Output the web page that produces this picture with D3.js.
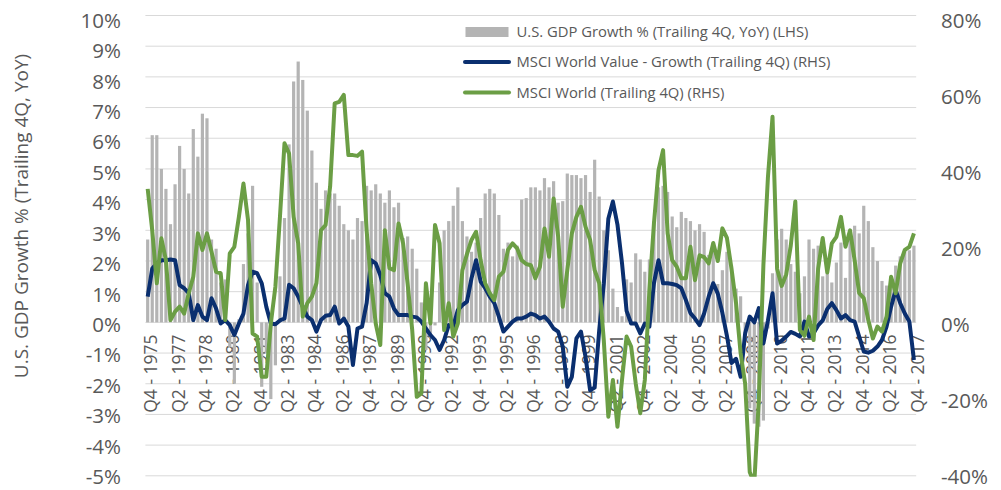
<!DOCTYPE html>
<html>
<head>
<meta charset="utf-8">
<script src="https://d3js.org/d3.v7.min.js"></script>
<style>
    body { margin: 0; background: #fff; }
    text { font-family: "Open Sans", sans-serif; fill: #595959; }
</style>
</head>
<body>
<div id="chart"></div>
<script>

// quarters run from Q4 1975 to Q4 2017
let quarters = [];
for (let yr = 1975; yr <= 2017; yr++) {
    for (let q = 1; q <= 4; q++) {
        if (yr === 1975 && q < 4) continue;
        quarters.push("Q" + q + " - " + yr);
    }
}

// U.S. GDP growth % (trailing 4Q, YoY), left axis
let gdpGrowth = [
    2.7, 6.1, 6.1, 5.0, 4.35, 3.2, 4.5, 5.75, 5.0, 4.2,
    6.3, 5.4, 6.8, 6.65, 2.7, 2.4, 1.3, 1.4, -0.8, -2.0,
    0.1, 1.9, 2.9, 4.45, 1.3, -2.1, -1.0, -2.5, -1.4, 1.5,
    3.4, 5.8, 7.85, 8.5, 7.9, 6.9, 5.6, 4.55, 3.7, 4.3,
    4.2, 4.2, 3.8, 3.2, 3.0, 2.7, 3.4, 3.3, 4.45, 4.3,
    4.5, 4.2, 3.9, 4.3, 3.75, 3.9, 2.75, 2.8, 2.4, 1.75,
    0.65, -0.9, -0.5, -0.1, 1.3, 3.0, 3.3, 3.8, 4.4, 3.3,
    2.8, 2.3, 2.6, 3.4, 4.2, 4.35, 4.2, 3.5, 2.4, 2.6,
    2.15, 2.5, 4.0, 4.05, 4.4, 4.4, 4.3, 4.7, 4.4, 4.6,
    3.9, 3.95, 4.85, 4.8, 4.8, 4.7, 4.8, 4.25, 5.3, 4.1,
    3.0, 2.35, 1.1, 0.5, 0.2, 1.4, 1.3, 2.25, 2.05, 1.65,
    2.05, 3.3, 4.4, 4.45, 4.25, 3.45, 3.1, 3.6, 3.4, 3.3,
    3.0, 3.2, 2.95, 2.2, 2.4, 1.25, 1.7, 2.3, 1.85, 1.1,
    0.85, -0.3, -2.8, -3.3, -3.4, -3.2, -0.2, 1.6, 2.7, 3.05,
    2.7, 1.9, 1.65, 0.95, 1.5, 2.7, 2.4, 2.5, 1.5, 1.6,
    1.3, 1.95, 2.6, 1.45, 2.7, 3.15, 2.9, 3.8, 3.3, 2.45,
    2.0, 1.35, 1.2, 1.5, 1.85, 2.15, 2.35, 2.35, 2.5
];

// MSCI World Value - Growth (trailing 4Q), right axis
let valueMinusGrowth = [
    6.7, 14, 15.4, 16.2, 16.2, 16.4, 16.2, 9.7, 8.9, 7.6,
    0.6, 4.5, 1.5, 0.6, 6.3, 3.6, -0.3, 0.6, -0.7, -3.3,
    -0.3, 2.3, 9.7, 13.2, 12.8, 10.2, 4.1, -0.3, -0.5, 0.5,
    1.0, 9.8, 8.9, 6.7, 4.1, 1.5, 0.6, -2.4, 0.6, 1.7,
    1.9, 4.1, -0.3, 1.0, -1.1, -11.1, -1.6, -1.1, 5.0, 16.2,
    15.4, 12.3, 7.6, 6.7, 3.6, 1.9, 1.9, 1.9, 1.5, 1.3,
    0.2, -1.6, -3.3, -4.6, -7.2, -4.6, -0.7, -1.1, 3.2, 4.5,
    5.4, 11.5, 16.2, 10.6, 8.9, 6.7, 5.0, 1.5, -2.4, -1.1,
    0.2, 1.0, 1.0, 1.5, 2.3, 1.9, 1.0, 1.5, 0.2, -1.6,
    -2.4, -6.3, -16.8, -14.2, -4.2, -2.4, -9.0, -17.7, -17.0, -2.0,
    10.0, 27.0, 31.5, 25.5, 15.4, 3.0, -0.3, -0.3, -2.9, -0.3,
    -1.1, 10.2, 16.2, 10.2, 10.2, 10.0, 9.7, 8.9, 5.8, 2.4,
    1.0, -0.7, 2.3, 6.7, 10.2, 7.5, 2.5, -3.5, -10.6, -9.5,
    -14.2, -2.8, 1.5, 0.0, 3.7, -5.5, 0.5, 7.6, -5.5, -4.8,
    -3.7, -2.5, -3.0, -3.7, 0.2, -3.7, -2.8, -0.8, 0.5, 3.5,
    5.0, 3.2, 1.0, 1.9, 0.6, 0.2, -3.7, -7.6, -7.9, -7.4,
    -6.3, -4.6, -1.1, 4.1, 8.4, 5.0, 2.3, 0.2, -9.8
];

// MSCI World (trailing 4Q), right axis
let msciWorld = [
    34.8, 24, 10.2, 21.9, 16.2, 0.6, 2.8, 4.1, 2.3, 7.6,
    11.9, 23.2, 18.9, 23.2, 18.4, 13.2, 12.8, 0.6, 18, 19.7,
    27.5, 36.2, 26.7, -2.9, -3.7, -14.2, -14.2, -0.3, 9.3, 27.5,
    46.7, 44, 27.5, 20.6, 1.5, 5, 6.7, 10.2, 24, 25.4,
    35.4, 57.1, 57.5, 59.3, 43.6, 43.6, 43.4, 44.5, 24, 10.2,
    -0.3, -5.9, 24, 14.1, 13.6, 25.8, 20.6, 10, -2, -19.4,
    -18.5, 10.2, -0.3, 25.4, 20.6, -2, 5, -3.7, -0.3, 13.6,
    17.8, 21.5, 23.6, 16.2, 10.2, 7.6, 5.8, 11.9, 13.2, 18.9,
    20.6, 19.3, 16.2, 15.2, 14.9, 11.5, 14.5, 24.5, 17.1, 32.3,
    22.3, 4.1, 13.6, 23.2, 27.5, 30.1, 24.9, 21.5, 13.6, 10.2,
    -4.6, -24.6, -15, -27.2, -15, -3.7, -6.3, -15.9, -23.7, -15,
    8.4, 25.8, 39.7, 44.9, 23.2, 16.2, 14.5, 11.5, 11.5, 19.7,
    11, 17.5, 17, 15.4, 20.7, 16, 24.5, 22, 14, 5,
    -8, -16, -39, -42, -20, 15, 38, 53.6, 14, 9.5,
    12.5, 20, 31.5, -2, -3.5, 1.5, -4.6, 14, 22, 13,
    20.6, 22.3, 27.5, 19.7, 24, 16.2, 7.6, 6.3, 0.6, -4.2,
    -1.1, -2.4, 1.5, 11.9, 7.6, 15.4, 18.9, 19.7, 23.2
];

let leftTicks = d3.range(-5, 11, 1);
let rightTicks = [-40, -20, 0, 20, 40, 60, 80];
let legendLabels = [
    "U.S. GDP Growth % (Trailing 4Q, YoY) (LHS)",
    "MSCI World Value - Growth (Trailing 4Q) (RHS)",
    "MSCI World (Trailing 4Q) (RHS)"
];

let width = 1001, height = 490;
let plot = {left: 145.4, right: 916.2, top: 15.5, bottom: 475.8};
let colors = {bar: "#b4b4b4", blue: "#0a2f6f", green: "#6b9e45", grid: "#d9d9d9"};

let svg = d3.select("#chart").append("svg")
    .attr("width", width)
    .attr("height", height);

let x = d3.scaleBand()
    .domain(quarters)
    .range([plot.left, plot.right])
    .paddingInner(0.3)
    .paddingOuter(0.15);

let yL = d3.scaleLinear().domain([-5, 10]).range([plot.bottom, plot.top]);
let yR = d3.scaleLinear().domain([-40, 80]).range([plot.bottom, plot.top]);

// the tick labels sit a little tighter than the gridlines
let yLabelL = d3.scaleLinear().domain([-5, 10]).range([477, 20.7]);
let yLabelR = d3.scaleLinear().domain([-40, 80]).range([477, 20.7]);

let xc = function(i) { return x(quarters[i]) + x.bandwidth() / 2; };

// horizontal gridlines
svg.append("g")
    .selectAll("line")
    .data(leftTicks)
    .enter()
    .append("line")
    .attr("x1", plot.left)
    .attr("x2", plot.right)
    .attr("y1", d => yL(d))
    .attr("y2", d => yL(d))
    .style("stroke", colors.grid)
    .style("stroke-width", 1);

// left axis labels
let leftAxis = svg.append("g")
    .attr("transform", "translate(121,0)")
    .call(d3.axisLeft(yLabelL).tickValues(leftTicks).tickSize(0).tickPadding(0).tickFormat(d => d + "%"));
leftAxis.select(".domain").remove();
leftAxis.selectAll("text")
    .style("font-family", "Open Sans")
    .style("font-size", "20.5px")
    .attr("fill", "#595959");

// right axis labels
let rightAxis = svg.append("g")
    .attr("transform", "translate(941,0)")
    .call(d3.axisRight(yLabelR).tickValues(rightTicks).tickSize(0).tickPadding(0).tickFormat(d => d + "%"));
rightAxis.select(".domain").remove();
rightAxis.selectAll("text")
    .style("font-family", "Open Sans")
    .style("font-size", "20.5px")
    .attr("fill", "#595959");

// x labels, every 6th quarter, rotated
let tickQuarters = quarters.filter((d, i) => i % 6 === 0);
let xAxis = svg.append("g")
    .attr("transform", "translate(3.5," + yL(0) + ")")
    .call(d3.axisBottom(x).tickValues(tickQuarters).tickSize(0));
xAxis.select(".domain").remove();
xAxis.selectAll("text")
    .attr("transform", "rotate(-90)")
    .attr("text-anchor", "end")
    .attr("x", -12)
    .attr("y", 0)
    .attr("dy", "0.35em")
    .style("font-family", "Open Sans")
    .style("font-size", "17.5px")
    .attr("fill", "#595959");

// gdp bars
svg.append("g")
    .selectAll("rect")
    .data(gdpGrowth)
    .enter()
    .append("rect")
    .attr("x", (d, i) => x(quarters[i]))
    .attr("width", x.bandwidth())
    .attr("y", d => yL(Math.max(0, d)))
    .attr("height", d => Math.abs(yL(d) - yL(0)))
    .style("fill", colors.bar);

// clip lines to the plot area
svg.append("clipPath")
    .attr("id", "plotClip")
    .append("rect")
    .attr("x", 0)
    .attr("y", plot.top)
    .attr("width", width)
    .attr("height", plot.bottom - plot.top + 1);

let line = d3.line()
    .x((d, i) => xc(i))
    .y(d => yR(d));

svg.append("path")
    .datum(valueMinusGrowth)
    .attr("d", line)
    .attr("clip-path", "url(#plotClip)")
    .style("fill", "none")
    .style("stroke", colors.blue)
    .style("stroke-width", 4)
    .style("stroke-linejoin", "round");

svg.append("path")
    .datum(msciWorld)
    .attr("d", line)
    .attr("clip-path", "url(#plotClip)")
    .style("fill", "none")
    .style("stroke", colors.green)
    .style("stroke-width", 4)
    .style("stroke-linejoin", "round");

// y axis title
svg.append("text")
    .attr("transform", "translate(21,216) rotate(-90)")
    .attr("text-anchor", "middle")
    .attr("dy", "0.35em")
    .style("font-size", "19px")
    .text("U.S. GDP Growth % (Trailing 4Q, YoY)");

// legend
let legendY = [31.5, 62, 92.5];
let legend = svg.append("g");

legend.append("rect")
    .attr("x", 465.5)
    .attr("y", legendY[0] - 4.5)
    .attr("width", 43)
    .attr("height", 10)
    .style("fill", colors.bar);

legend.append("line")
    .attr("x1", 465).attr("x2", 509)
    .attr("y1", legendY[1]).attr("y2", legendY[1])
    .style("stroke", colors.blue)
    .style("stroke-width", 4)
    .style("stroke-linecap", "round");

legend.append("line")
    .attr("x1", 465).attr("x2", 509)
    .attr("y1", legendY[2]).attr("y2", legendY[2])
    .style("stroke", colors.green)
    .style("stroke-width", 4)
    .style("stroke-linecap", "round");

legend.selectAll("text")
    .data(legendLabels)
    .enter()
    .append("text")
    .attr("x", 516.5)
    .attr("y", (d, i) => legendY[i])
    .attr("dy", "0.35em")
    .style("font-size", "14.8px")
    .text(d => d);

</script>
</body>
</html>
